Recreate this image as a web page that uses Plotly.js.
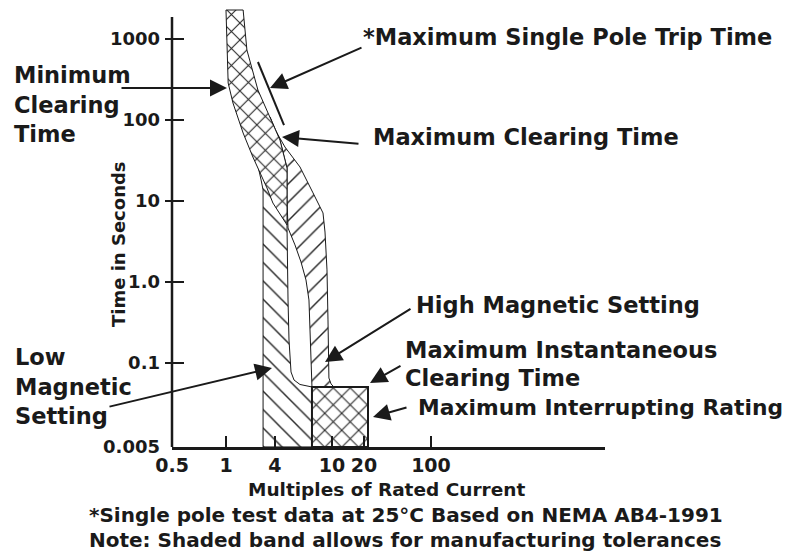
<!DOCTYPE html>
<html><head><meta charset="utf-8">
<script src="https://cdn.plot.ly/plotly-3.0.1.min.js"></script>
<style>html,body{margin:0;padding:0;background:#fff}#chart{width:793px;height:554px}</style>
</head><body><div id="chart"></div>
<script>
// ---- Data: multiples of rated current (x) vs time in seconds (y) ----
// Low magnetic setting band (\\ hatch)
const lowMagX = [2.30, 2.30, 2.20, 2.10, 2.05, 3.94, 3.94, 4.03, 4.12, 4.31, 4.61, 5.27, 6.90, 6.90, 2.30];
const lowMagY = [0.0092, 13.7, 18.2, 24.1, 27.1, 27.1, 4.64, 0.600, 0.192, 0.0775, 0.0617, 0.0543, 0.0506, 0.0092, 0.0092];
// High magnetic setting band (/ hatch)
const highMagX = [2.69, 2.87, 3.76, 5.27, 7.06, 8.84, 9.25, 9.67, 9.89, 10.1, 10.1, 10.6, 11.3, 6.90, 6.75, 6.60, 6.45, 6.03, 5.39, 4.71, 4.03, 3.94, 3.94, 3.36, 2.69];
const highMagY = [109, 84.4, 46.4, 26.3, 12.6, 7.12, 4.14, 1.41, 0.340, 0.126, 0.0653, 0.0551, 0.0506, 0.0506, 0.109, 0.255, 0.600, 1.06, 1.77, 2.87, 4.64, 10.3, 25.5, 56.6, 109];
// Thermal band between minimum and maximum clearing time (crosshatch)
const thermalX = [1.00, 1.02, 1.05, 1.17, 1.47, 1.83, 2.15, 2.51, 2.87, 3.36, 3.94, 3.94, 3.94, 3.36, 2.69, 2.05, 1.60, 1.47, 1.00];
const thermalY = [2280, 731, 286, 162, 69.1, 34.9, 22.2, 14.5, 9.44, 6.92, 5.06, 10.3, 25.5, 56.6, 109, 234, 731, 2280, 2280];
// Maximum instantaneous clearing time / maximum interrupting rating (crosshatch box)
const instX = [6.90, 24.3, 24.3, 6.90, 6.90];
const instY = [0.0092, 0.0092, 0.0506, 0.0506, 0.0092];
// Maximum single pole trip time
const singlePoleX = [2.05, 3.68];
const singlePoleY = [520, 86.7];
// Tick labels
const xTickVals = [0.298, 1, 3.0, 10.8, 22.2, 100];
const xTickText = ['0.5', '1', '4', '10', '20', '100'];
const yTickVals = [0.0093, 0.1, 1, 10, 100, 1000];
const yTickText = ['0.005', '0.1', '1.0', '10', '100', '1000'];

// ---- Layout helpers ----
const INK = '#1a1a1a';
const FONT = 'DejaVu Sans';
const L = 172, R = 605, T = 6, B = 447;
const W = R - L, H = B - T;
const px = v => (v - L) / W;
const py = v => (B - v) / H;

const hatch = (shape, size, sol) => ({shape: shape, size: size, solidity: sol, fgcolor: '#262626', bgcolor: '#ffffff', fillmode: 'replace'});

const traces = [
  {x: lowMagX, y: lowMagY, mode: 'lines', fill: 'toself', fillcolor: '#ffffff',
   fillpattern: hatch('\\', 13, 0.11), line: {color: INK, width: 1}, hoverinfo: 'skip'},
  {x: highMagX, y: highMagY, mode: 'lines', fill: 'toself', fillcolor: '#ffffff',
   fillpattern: hatch('/', 13, 0.11), line: {color: INK, width: 1}, hoverinfo: 'skip'},
  {x: thermalX, y: thermalY, mode: 'lines', fill: 'toself', fillcolor: '#ffffff',
   fillpattern: hatch('x', 12, 0.17), line: {color: INK, width: 1}, hoverinfo: 'skip'},
  {x: instX, y: instY, mode: 'lines', fill: 'toself', fillcolor: '#ffffff',
   fillpattern: hatch('x', 12, 0.17), line: {color: INK, width: 2}, hoverinfo: 'skip'},
  {x: singlePoleX, y: singlePoleY, mode: 'lines', line: {color: INK, width: 2}, hoverinfo: 'skip'}
];

const shapes = [
  {type: 'line', xref: 'paper', yref: 'paper', x0: 0, x1: 0, y0: 0, y1: py(17), line: {color: INK, width: 2.5}}
];
yTickVals.slice(1).forEach(v => shapes.push({
  type: 'line', xref: 'paper', yref: 'y', x0: -7 / W, x1: 12 / W,
  y0: v, y1: v, line: {color: INK, width: 2}
}));

const annotations = [];
function label(text, x, y, size, extra) {
  annotations.push(Object.assign({
    text: text, xref: 'paper', yref: 'paper', x: px(x), y: py(y),
    xanchor: 'left', yanchor: 'middle', showarrow: false,
    font: {family: FONT, size: size, weight: 'bold', color: INK}
  }, extra || {}));
}
function arrow(tipX, tipY, tailX, tailY) {
  annotations.push({
    text: '', xref: 'paper', yref: 'paper', x: px(tipX), y: py(tipY),
    axref: 'pixel', ayref: 'pixel', ax: tailX - tipX, ay: tailY - tipY,
    showarrow: true, arrowhead: 2, arrowsize: 1.7, arrowwidth: 2, arrowcolor: INK, standoff: 0
  });
}
const AF = 22.5;
label('*Maximum Single Pole Trip Time', 361, 37, AF);
label('Minimum', 12, 75, AF);
label('Clearing', 12, 105, AF);
label('Time', 12, 134, AF);
label('Maximum Clearing Time', 371, 137, AF);
label('High Magnetic Setting', 414, 305, AF);
label('Maximum Instantaneous', 403, 350, AF);
label('Clearing Time', 403, 378, AF);
label('Maximum Interrupting Rating', 416, 407, 21.8);
label('Low', 13, 357, AF);
label('Magnetic', 13, 387, AF);
label('Setting', 13, 416, AF);
label('Multiples of Rated Current', 386, 489, 18.5, {xanchor: 'center'});
label('Time in Seconds', 118, 244, 18, {xanchor: 'center', textangle: -90});
label('*Single pole test data at 25°C Based on NEMA AB4-1991', 87, 515, 20);
label('Note: Shaded band allows for manufacturing tolerances', 87, 540, 20);

arrow(270, 88, 363, 47);
arrow(227, 88, 120, 88);
arrow(282, 137, 360, 144);
arrow(325, 362, 412, 308);
arrow(370, 383, 402, 365);
arrow(373, 417, 408, 407);
arrow(272, 368, 108, 407);

const yTickFont = {family: FONT, size: 18, weight: 'bold', color: INK};
const xTickFont = {family: FONT, size: 19, weight: 'bold', color: INK};
const layout = {
  width: 793, height: 554,
  margin: {l: L, r: 793 - R, t: T, b: 554 - B, pad: 0},
  paper_bgcolor: '#ffffff', plot_bgcolor: '#ffffff',
  showlegend: false,
  xaxis: {
    type: 'log', range: [-0.5268, 3.698], tickmode: 'array', tickvals: xTickVals, ticktext: xTickText,
    ticks: 'inside', ticklen: 11, tickwidth: 2, tickcolor: INK,
    showline: true, linewidth: 2.5, linecolor: INK, showgrid: false, zeroline: false,
    tickfont: xTickFont, fixedrange: true
  },
  yaxis: {
    type: 'log', range: [-2.037, 3 + 33 / 81], tickmode: 'array', tickvals: yTickVals, ticktext: yTickText,
    ticks: '', showline: false, showgrid: false, zeroline: false,
    tickfont: yTickFont, ticklabelstandoff: 11, fixedrange: true
  },
  shapes: shapes,
  annotations: annotations
};
Plotly.newPlot('chart', traces, layout, {staticPlot: true, displayModeBar: false});
</script>
</body></html>
